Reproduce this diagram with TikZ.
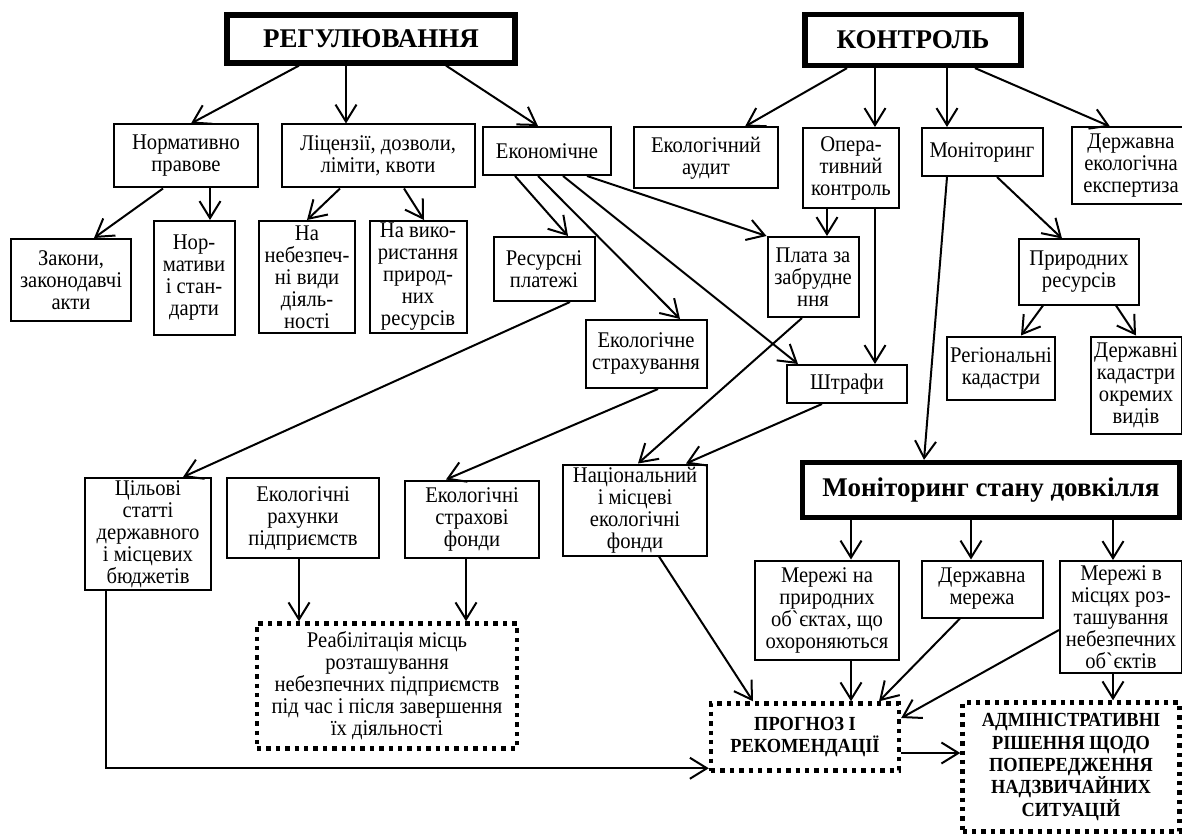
\documentclass[tikz,border=0pt]{standalone}
\usepackage{fontspec}
\setmainfont{Liberation Serif}
\newfontfamily\tallfont{Liberation Serif}[FakeStretch=0.92]
\usetikzlibrary{arrows.meta}
\tikzset{
  box/.style={draw, line width=1pt, align=center, inner sep=1pt, font=\tallfont\fontsize{11.2}{11}\selectfont},
  headbox/.style={draw, line width=2.6pt, align=center, inner sep=1pt, font=\fontsize{13.5}{15}\selectfont\bfseries},
  dotbox/.style={draw, line width=2.2pt, dash pattern=on 2.2pt off 2.5pt, align=center, inner sep=1pt, font=\tallfont\fontsize{11.2}{11}\selectfont},
  capsfont/.style={font=\tallfont\fontsize{10}{11.2}\selectfont\bfseries},
  arr/.style={-{Straight Barb[length=8.5pt,width=10.5pt]}, line width=1pt},
}

\begin{document}
\begin{tikzpicture}[x=0.5pt, y=-0.5pt]
        \useasboundingbox (0, 0) rectangle (1182, 834);

        % top level
        \node[headbox, minimum width=144pt, minimum height=24pt] at (371, 39)   (reg) {РЕГУЛЮВАННЯ};
        \node[headbox, minimum width=108pt, minimum height=25.5pt] at (913, 40)   (kon) {КОНТРОЛЬ};

        % second row
        \node[box, minimum width=72pt, minimum height=31.5pt] at (186, 156)   (norm) {Нормативно\\правове};
        \node[box, minimum width=96.5pt, minimum height=31.5pt] at (378, 156)   (lic) {Ліцензії, дозволи,\\ліміти, квоти};
        \node[box, minimum width=64pt, minimum height=24pt] at (547, 151)   (econ) {Економічне};
        \node[box, minimum width=72pt, minimum height=30.5pt] at (706, 158)   (audit) {Екологічний\\аудит};
        \node[box, minimum width=48pt, minimum height=40pt] at (851, 168)   (oper) {Опера-\\тивний\\контроль};
        \node[box, minimum width=60.5pt, minimum height=24pt] at (982, 152)   (monit) {Моніторинг};
        \node[box, minimum width=59pt, minimum height=38.5pt] at (1131, 166)   (expert) {Державна\\екологічна\\експертиза};

        % third row
        \node[box, minimum width=60pt, minimum height=41pt] at (71, 280)   (zakony) {Закони,\\законодавчі\\акти};
        \node[box, minimum width=40.5pt, minimum height=57pt] at (194, 278)   (normat) {Нор-\\мативи\\і стан-\\дарти};
        \node[box, minimum width=48pt, minimum height=56pt] at (307, 277)   (nebezp) {На\\небезпеч-\\ні види\\діяль-\\ності};
        \node[box, minimum width=48.5pt, minimum height=56pt] at (418, 277)   (vykor) {На вико-\\ристання\\природ-\\них\\ресурсів};
        \node[box, minimum width=50.5pt, minimum height=32pt] at (544, 269)   (resurs) {Ресурсні\\платежі};
        \node[box, minimum width=45.5pt, minimum height=40pt] at (813, 277)   (plata) {Плата за\\забрудне\\ння};
        \node[box, minimum width=60pt, minimum height=32.5pt] at (1079, 272)   (pryrod) {Природних\\ресурсів};
        \node[box, minimum width=60.5pt, minimum height=34pt] at (646, 354)   (strah) {Екологічне\\страхування};
        \node[box, minimum width=60pt, minimum height=19pt] at (847, 384)   (shtraf) {Штрафи};
        \node[box, minimum width=54pt, minimum height=31.5pt] at (1001, 368)   (region) {Регіональні\\кадастри};
        \node[box, minimum width=45.5pt, minimum height=48.5pt] at (1136, 385)   (kadastr) {Державні\\кадастри\\окремих\\видів};

        % funds
        \node[box, minimum width=63pt, minimum height=56pt] at (148, 534)   (cil) {Цільові\\статті\\державного\\і місцевих\\бюджетів};
        \node[box, minimum width=76pt, minimum height=40pt] at (303, 518)   (rahunky) {Екологічні\\рахунки\\підприємств};
        \node[box, minimum width=67pt, minimum height=38.5pt] at (472, 519)   (fondy) {Екологічні\\страхові\\фонди};
        \node[box, minimum width=72pt, minimum height=45.5pt] at (635, 510)   (nacfond) {Національний\\і місцеві\\екологічні\\фонди};
        \node[headbox, minimum width=188.5pt, minimum height=27.5pt] at (991, 490)   (stan) {Моніторинг стану довкілля};

        % networks
        \node[box, minimum width=72pt, minimum height=49.5pt] at (827, 610)   (merpryr) {Мережі на\\природних\\об\textasciigrave єктах, що\\охороняються};
        \node[box, minimum width=60.5pt, minimum height=28.5pt] at (982, 589)   (dermer) {Державна\\мережа};
        \node[box, minimum width=61pt, minimum height=56pt] at (1121, 617)   (mermisc) {Мережі в\\місцях роз-\\ташування\\небезпечних\\об\textasciigrave єктів};

        % results
        \node[dotbox, minimum width=130pt, minimum height=62.5pt] at (387, 686)   (reab) {Реабілітація місць\\розташування\\небезпечних підприємств\\під час і після завершення\\їх діяльності};
        \node[dotbox, capsfont, minimum width=94pt, minimum height=33.5pt] at (805, 737)   (prog) {ПРОГНОЗ І\\РЕКОМЕНДАЦІЇ};
        \node[dotbox, capsfont, minimum width=108.5pt, minimum height=64.5pt] at (1071, 767)   (admin) {АДМІНІСТРАТИВНІ\\РІШЕННЯ ЩОДО\\ПОПЕРЕДЖЕННЯ\\НАДЗВИЧАЙНИХ\\СИТУАЦІЙ};

        % regulation branch
        \draw[arr] ([xshift=-36pt]reg.south) -- ([xshift=2.5pt]norm.north);
        \draw[arr] ([xshift=-12.5pt]reg.south) -- ([xshift=-16pt]lic.north);
        \draw[arr] ([xshift=37.5pt]reg.south) -- ([xshift=-4.5pt]econ.north);
        \draw[arr] ([xshift=-11.5pt]norm.south) -- ([xshift=11.5pt]zakony.north);
        \draw[arr] ([xshift=12pt]norm.south) -- ([xshift=8pt]normat.north);
        \draw[arr] ([xshift=-19pt]lic.south) -- (nebezp.north);
        \draw[arr] ([xshift=13pt]lic.south) -- ([xshift=3pt]vykor.north);
        \draw[arr] ([xshift=-16pt]econ.south) -- ([xshift=12pt]resurs.north);
        \draw[arr] ([xshift=-4.5pt]econ.south) -- ([xshift=17pt]strah.north);
        \draw[arr] ([xshift=8pt]econ.south) -- ([xshift=-24.5pt]shtraf.north);
        \draw[arr] ([xshift=20pt]econ.south) -- (plata.north west);

        % control branch
        \draw[arr] ([xshift=-33pt]kon.south) -- ([xshift=19.5pt]audit.north);
        \draw[arr] ([xshift=-19pt]kon.south) -- ([xshift=12pt]oper.north);
        \draw[arr] ([xshift=17pt]kon.south) -- ([xshift=-17.5pt]monit.north);
        \draw[arr] ([xshift=31pt]kon.south) -- ([xshift=-10.5pt]expert.north);
        \draw[arr] ([xshift=-12pt]oper.south) -- ([xshift=7pt]plata.north);
        \draw[arr] ([xshift=12pt]oper.south) -- ([xshift=14pt]shtraf.north);
        \draw[arr] ([xshift=7.5pt]monit.south) -- ([xshift=-8.5pt]pryrod.north);
        \draw[arr] ([xshift=-17.5pt]monit.south) -- ([xshift=-33.5pt]stan.north);
        \draw[arr] ([xshift=-18pt]pryrod.south) -- ([xshift=10pt]region.north);
        \draw[arr] ([xshift=18.5pt]pryrod.south) -- (kadastr.north);

        % money flows
        \draw[arr] ([xshift=13pt]resurs.south) -- ([xshift=17.5pt]cil.north);
        \draw[arr] ([xshift=6pt]strah.south) -- ([xshift=-13pt]fondy.north);
        \draw[arr] ([xshift=-5.5pt]plata.south) -- ([xshift=1.5pt]nacfond.north);
        \draw[arr] ([xshift=-12.5pt]shtraf.south) -- ([xshift=25.5pt]nacfond.north);
        \draw[arr] ([xshift=-2pt]rahunky.south) -- ([xshift=-44pt]reab.north);
        \draw[arr] ([xshift=-3pt]fondy.south) -- ([xshift=39.5pt]reab.north);
        \draw[arr] ([xshift=-21pt]cil.south) |- (prog.198);
        \draw[arr] ([xshift=12pt]nacfond.south) -- ([xshift=-26pt]prog.north);

        % monitoring networks
        \draw[arr] ([xshift=-70pt]stan.south) -- ([xshift=12pt]merpryr.north);
        \draw[arr] ([xshift=-10pt]stan.south) -- ([xshift=-5.5pt]dermer.north);
        \draw[arr] ([xshift=61pt]stan.south) -- ([xshift=-4pt]mermisc.north);
        \draw[arr] ([xshift=12pt]merpryr.south) -- ([xshift=23pt]prog.north);
        \draw[arr] ([xshift=-11pt]dermer.south) -- ([xshift=37pt]prog.north);
        \draw[arr] ([yshift=-6.5pt]mermisc.west) -- ([yshift=9.5pt]prog.east);
        \draw[arr] ([xshift=-4pt]mermisc.south) -- ([xshift=21pt]admin.north);
        \draw[arr] ([yshift=-8pt]prog.east) -- ([yshift=7pt]admin.west);
\end{tikzpicture}
\end{document}
